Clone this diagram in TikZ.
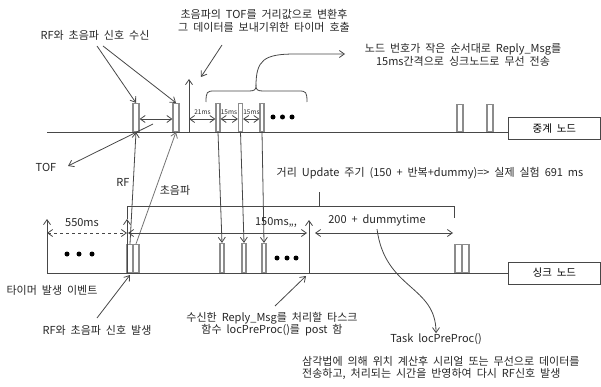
\documentclass[tikz,border=0pt]{standalone}
\usepackage{fontspec}
\setmainfont{Noto Sans CJK KR}[WordSpace=2]
\usetikzlibrary{arrows.meta}
\begin{document}
\begin{tikzpicture}[x=1pt,y=-1pt,
  ln/.style={draw=black!72, line width=0.8pt},
  arr/.style={ln, -{Straight Barb[length=5pt,width=7pt]}},
  darr/.style={ln, {Straight Barb[length=5pt,width=7pt]}-{Straight Barb[length=5pt,width=7pt]}},
  pulse/.style={draw=black!45, line width=1.1pt, fill=white, inner sep=0pt, minimum height=28pt, anchor=south},
  lbl/.style={font=\fontsize{11}{12.5}\selectfont, text=black!85, inner sep=0pt, align=center},
  tiny/.style={font=\fontsize{6.5}{7}\selectfont, text=black!85, inner sep=0pt},
  boxn/.style={draw=black!72, line width=0.8pt, minimum width=92pt, minimum height=22pt, inner sep=0pt, font=\fontsize{10.5}{12}\selectfont},
  dot/.style={circle, fill=black, inner sep=0pt, minimum size=5pt}
]
\useasboundingbox (0,0) rectangle (601,387);

% ---------------- timelines ----------------
\coordinate (t0) at (47,132);
\node[boxn, anchor=west] (relay) at (508,128.5) {중계 노드};
\draw[ln] (t0) -- (relay.west |- t0);
\coordinate (b0) at (47,273);
\node[boxn, anchor=west] (sink) at (508,273) {싱크 노드};
\draw[ln] (b0) -- (sink.west);

% ---------------- top pulses ----------------
\node[pulse, minimum width=6pt] (p1) at (136,132) {};
\node[pulse, minimum width=6pt] (p2) at (176,132) {};
\node[pulse, minimum width=4pt] (p3) at (218,132) {};
\node[pulse, minimum width=4pt] (p4) at (240.5,132) {};
\node[pulse, minimum width=4pt] (p5) at (262,132) {};
\node[pulse, minimum width=6pt, minimum height=27pt] (p6) at (460,132) {};
\node[pulse, minimum width=6pt, minimum height=27pt] (p7) at (490,132) {};

% ---------------- bottom pulses ----------------
\node[pulse, minimum width=6pt] (q1a) at (130,273) {};
\node[pulse, minimum width=6pt] (q1b) at (136,273) {};
\node[pulse, minimum width=4pt, minimum height=29pt] (q2) at (222,273) {};
\node[pulse, minimum width=4pt, minimum height=29pt] (q3) at (244,273) {};
\node[pulse, minimum width=4pt, minimum height=29pt] (q4) at (264,273) {};
\node[pulse, minimum width=7pt] (q5a) at (458.5,273) {};
\node[pulse, minimum width=7pt] (q5b) at (465.5,273) {};

% ---------------- top intervals ----------------
\draw[darr] (p1.east |- 0,119) -- (p2.west |- 0,119);
\coordinate (v1b) at (189,132);
\coordinate (v1t) at (189,79);
\draw[arr] (v1b) -- (v1t);
\draw[darr] (189,119) -- (p3.west |- 0,119);
\draw[darr] (p3.east |- 0,119) -- (p4.west |- 0,119);
\draw[darr] (p4.east |- 0,119) -- (p5.west |- 0,119);
\node[tiny] (l21) at (202.5,112) {21ms};
\node[tiny] (l15a) at (229,112) {15ms};
\node[tiny] (l15b) at (251.5,112) {15ms};
\node[dot] (d1) at (273,117) {};
\node[dot] (d2) at (282.5,117) {};
\node[dot] (d3) at (292,117) {};

% brace and arrow to description
\coordinate (bt) at (256,86);
\draw[ln] (206,102) .. controls (206,92) and (207,91) .. (214,91) -- (249,91)
  .. controls (254,91) and (256,90) .. (bt)
  .. controls (256,90) and (258,91) .. (263,91) -- (299,91)
  .. controls (306,91) and (307,92) .. (307,102);
\node[lbl] (reply) at (463,55) {노드 번호가 작은 순서대로 Reply\_Msg를\\15ms간격으로 싱크노드로 무선 전송};
\draw[arr] (bt) .. controls (256,60) and (264,54) .. (295,54) -- (345,54);

% top annotations
\node[lbl] (tof2) at (264,21) {초음파의 TOF를 거리값으로 변환후\\그 데이터를 보내기위한 타이머 호출};
\coordinate (a1s) at (222,45);
\coordinate (a1e) at (201,77);
\draw[arr] (a1s) -- (a1e);
\node[lbl] (rx) at (95,35) {RF와 초음파 신호 수신};
\draw[arr] (97,46) -- (p1.north);
\draw[arr] (103,46) -- (p2.north);
\node[lbl] (tof) at (46,167) {TOF};
\coordinate (tofs) at (153,124);
\draw[arr] (tofs) -- (68,166);

% RF and ultrasound arrows
\draw[arr] (q1a.north) -- (p1.south);
\node[lbl] (rf) at (123,182) {RF};
\draw[ln, draw=black!55, -{Straight Barb[length=5pt,width=7pt]}] (q1b.north) -- (p2.south);
\node[lbl] (us) at (175,190) {초음파};

% reply messages down
\draw[arr] (p3.south) -- (q2.north);
\draw[arr] (p4.south) -- (q3.north);
\draw[arr] (p5.south) -- (q4.north);
\node[dot] (e1) at (277,258) {};
\node[dot] (e2) at (287,258) {};
\node[dot] (e3) at (296,258) {};

% ---------------- bottom timing ----------------
\coordinate (lv) at (47,219);
\draw[arr] (b0) -- (lv);
\node[dot] (f1) at (67,254) {};
\node[dot] (f2) at (79,254) {};
\node[dot] (f3) at (92,254) {};
\draw[darr, dashed] (47,233) -- (127,233);
\node[lbl] (l550) at (82,223) {550ms};
\coordinate (c0) at (127,273);
\coordinate (c1) at (127,219);
\draw[arr] (c0) -- (c1);
\draw[ln] (c1) -- (127,206) -- (454,206) -- (454,218);
\draw[ln] (319,206) -- (319,192);
\node[lbl] (upd) at (430,173) {거리 Update 주기 (150 + 반복+dummy)=> 실제 실험 691 ms};
\draw[darr] (128,233) -- (307,233);
\node[lbl] (l150) at (276,223) {150ms,,,};
\coordinate (m0) at (309,273);
\coordinate (m1) at (309,220);
\draw[arr] (m0) -- (m1);
\draw[darr] (315,233) -- (453,233);
\node[lbl] (l200) at (377,220) {200 + dummytime};

% task arrow
\node[lbl] (task) at (436,339) {Task locPreProc()};
\draw[arr] (377,229) .. controls (385,290) and (436,285) .. (task.north);
\node[lbl, align=left, anchor=west] (desc) at (302,368) {삼각법에 의해 위치 계산후 시리얼 또는 무선으로 데이터를\\전송하고, 처리되는 시간을 반영하여 다시 RF신호 발생};

% bottom annotations
\node[lbl] (timer) at (52,290) {타이머 발생 이벤트};
\node[lbl] (gen) at (97,330) {RF와 초음파 신호 발생};
\draw[arr] (97,318) -- (130,275);
\node[lbl] (post) at (272,324) {수신한 Reply\_Msg를 처리할 타스크\\함수 locPreProc()를 post 함};
\draw[arr] (275,306) -- (306,276);
\end{tikzpicture}
\end{document}
